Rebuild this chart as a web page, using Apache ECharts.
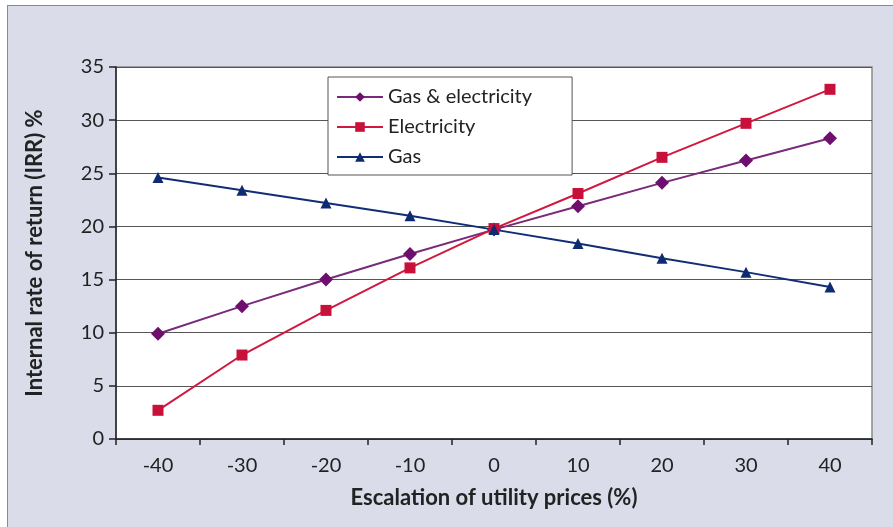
<!DOCTYPE html>
<html>
<head>
<meta charset="utf-8">
<script src="https://cdn.jsdelivr.net/npm/echarts@6/dist/echarts.min.js"></script>
<style>
  html, body { margin: 0; padding: 0; background: #fff; }
  #frame {
    position: absolute; left: 7px; top: 5px; width: 900px; height: 540px;
    background: #dadcea; border: 1.5px solid #8a8a8a; box-sizing: border-box;
  }
  #chart { position: absolute; left: 0; top: 0; width: 893px; height: 527px; }
</style>
</head>
<body>
<div id="frame"></div>
<div id="chart"></div>
<script>
  // 横轴：公用事业价格上涨幅度
  const categories = ['-40', '-30', '-20', '-10', '0', '10', '20', '30', '40'];
  const gasElec = [9.9, 12.5, 15.0, 17.4, 19.7, 21.9, 24.1, 26.2, 28.3];
  const elec = [2.7, 7.9, 12.1, 16.1, 19.8, 23.1, 26.5, 29.7, 32.9];
  const gas = [24.6, 23.4, 22.2, 21.0, 19.7, 18.4, 17.0, 15.7, 14.3];
  const yTicks = [0, 5, 10, 15, 20, 25, 30, 35];

  const font = 'Lato, "Open Sans", sans-serif';
  let myChart = echarts.init(document.getElementById('chart'));

  let option = {
    backgroundColor: 'transparent',
    textStyle: { fontFamily: font },
    grid: {
      left: 116, top: 67, width: 756, height: 372,
      show: true, backgroundColor: '#fff', borderColor: '#8a8a8a', borderWidth: 1.5
    },
    legend: {
      orient: 'vertical',
      left: 328, top: 77,
      backgroundColor: '#fff',
      borderColor: '#555',
      borderWidth: 1,
      padding: [10, 40, 8, 8],
      itemGap: 10,
      itemWidth: 46,
      itemHeight: 12,
      textStyle: { fontSize: 20, color: '#222', fontFamily: font },
      data: ['Gas & electricity', 'Electricity', 'Gas']
    },
    xAxis: {
      type: 'category',
      data: categories,
      boundaryGap: true,
      name: 'Escalation of utility prices (%)',
      nameLocation: 'middle',
      nameGap: 48,
      nameTextStyle: { fontSize: 22, fontWeight: 'bold', color: '#222', fontFamily: font },
      axisLine: { lineStyle: { color: '#222', width: 1.5 } },
      axisTick: { show: true, length: 6, lineStyle: { color: '#222', width: 1.5 } },
      axisLabel: { fontSize: 20, color: '#222', margin: 17 },
      splitLine: { show: false }
    },
    yAxis: {
      type: 'value',
      min: yTicks[0],
      max: yTicks[yTicks.length - 1],
      interval: 5,
      name: 'Internal rate of return (IRR) %',
      nameLocation: 'middle',
      nameGap: 70,
      nameTextStyle: { fontSize: 22, fontWeight: 'bold', color: '#222', fontFamily: font },
      axisLine: { show: true, lineStyle: { color: '#222', width: 1.5 } },
      axisTick: { show: true, length: 7, lineStyle: { color: '#222', width: 1.5 } },
      axisLabel: { fontSize: 20, color: '#222', margin: 12 },
      splitLine: { show: true, lineStyle: { color: '#555', width: 1.2 } }
    },
    series: [
      {
        name: 'Gas & electricity', type: 'line', data: gasElec,
        symbol: 'diamond', symbolSize: 14,
        itemStyle: { color: '#6e0f6e' },
        lineStyle: { color: '#7a2a7a', width: 2 }
      },
      {
        name: 'Electricity', type: 'line', data: elec,
        symbol: 'rect', symbolSize: 11,
        itemStyle: { color: '#c8103a' },
        lineStyle: { color: '#d01840', width: 2 }
      },
      {
        name: 'Gas', type: 'line', data: gas,
        symbol: 'triangle', symbolSize: 11,
        itemStyle: { color: '#0e2a70' },
        lineStyle: { color: '#102d75', width: 2 }
      }
    ],
    animation: false
  };

  myChart.setOption(option);
  window.addEventListener('resize', function () { myChart.resize() });
</script>
</body>
</html>
